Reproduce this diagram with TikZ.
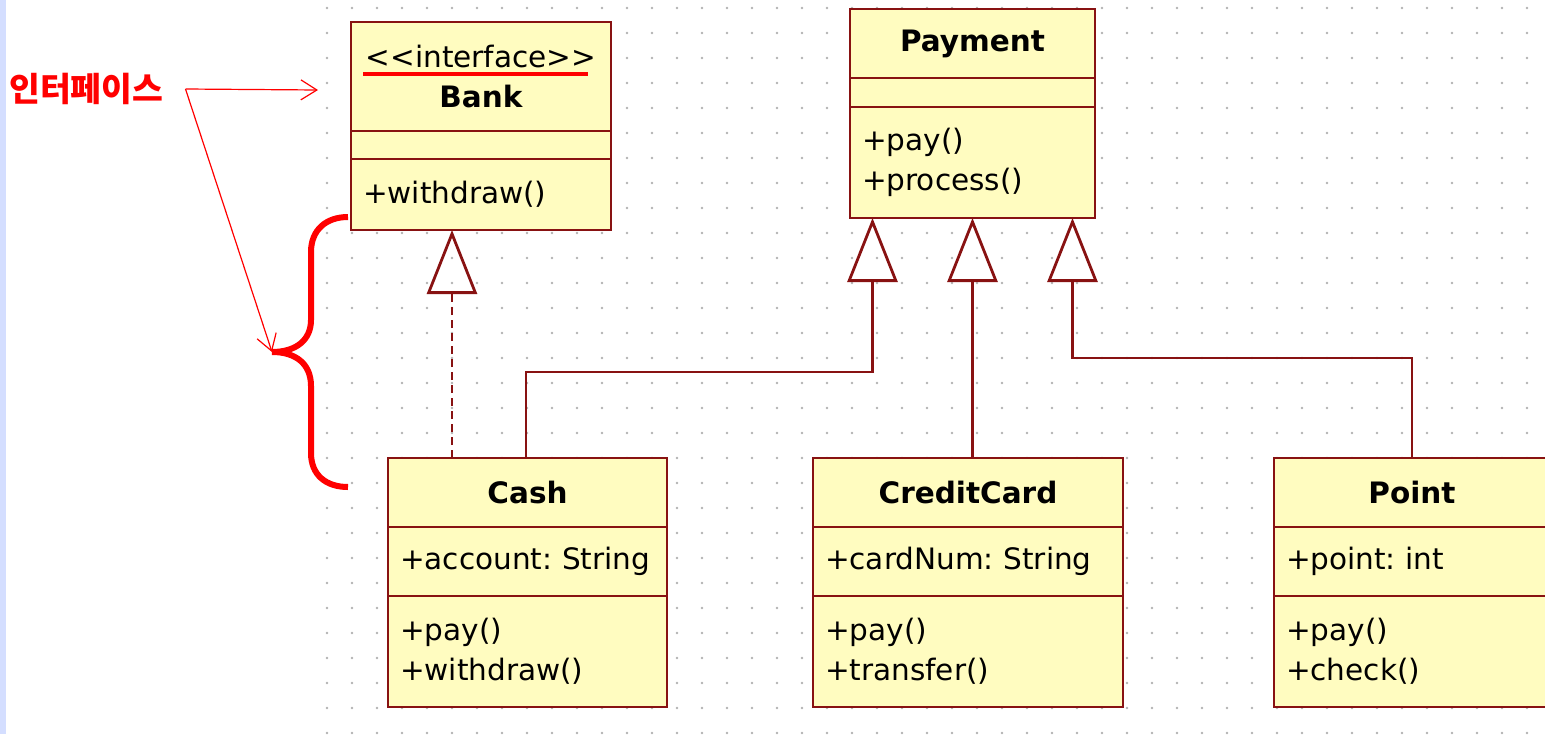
\documentclass[tikz,border=0pt]{standalone}
\usepackage{fontspec}
\usetikzlibrary{positioning,arrows.meta}
\newfontfamily\umlfamily{DejaVu Sans}
\newfontfamily\krfamily{Noto Sans CJK KR}
\definecolor{umlline}{RGB}{136,18,18}
\definecolor{umlfill}{RGB}{255,252,192}
\definecolor{griddot}{RGB}{178,178,178}
\definecolor{sidebar}{RGB}{212,222,255}
\tikzset{
	umlbox/.style={draw=umlline, fill=umlfill, line width=2.8pt, inner sep=0pt, outer sep=0pt,
		font=\umlfamily\fontsize{29.5}{40}\selectfont\frenchspacing},
	umlhead/.style={umlbox, minimum width=#1, align=center},
	umlpart/.style={umlbox, text width=#1, inner xsep=12pt, align=left},
	extends/.style={draw=umlline, line width=2.8pt, -{Triangle[open, length=64pt, width=50pt]}},
	realizes/.style={extends, dash pattern=on 8pt off 5pt},
	note/.style={draw=red, line width=1.2pt, -{Straight Barb[length=16pt, width=20pt]}},
	curly/.style={draw=red, line width=6pt},
	krlabel/.style={text=red, inner sep=0pt, font=\krfamily\bfseries\fontsize{33.5}{38}\selectfont},
}
\begin{document}
\begin{tikzpicture}[x=1pt,y=-1pt]
	\useasboundingbox (0,0) rectangle (1545,734);
	\fill[sidebar] (0,0) rectangle (6,734);
%
	% dotted canvas
	\foreach \gx in {327,352,...,1527}
		\foreach \gy in {8,33,...,733}
			\fill[griddot] (\gx,\gy) circle (1.3pt);
%
	% interface Bank
	\node[umlhead=260pt, minimum height=109pt, anchor=north west] (bankHead) at (351,22) {<<interface>>\\{\bfseries Bank}};
	\node[umlpart=236pt, minimum height=28pt, below=0pt of bankHead] (bankAttr) {};
	\node[umlpart=236pt, minimum height=71pt, below=0pt of bankAttr] (bankOps) {+withdraw()};
%
	% Payment
	\node[umlhead=245pt, minimum height=69pt, anchor=north west] (payHead) at (850,9) {\bfseries Payment};
	\node[umlpart=221pt, minimum height=29pt, below=0pt of payHead] (payAttr) {};
	\node[umlpart=221pt, minimum height=111pt, below=0pt of payAttr] (payOps) {+pay()\\+process()};
%
	% Cash
	\node[umlhead=279pt, minimum height=69pt, anchor=north west] (cashHead) at (388,458) {\bfseries Cash};
	\node[umlpart=255pt, minimum height=69pt, below=0pt of cashHead] (cashAttr) {+account: String};
	\node[umlpart=255pt, minimum height=111pt, below=0pt of cashAttr] (cashOps) {+pay()\\+withdraw()};
%
	% CreditCard
	\node[umlhead=310pt, minimum height=69pt, anchor=north west] (ccHead) at (813,458) {\bfseries CreditCard};
	\node[umlpart=286pt, minimum height=69pt, below=0pt of ccHead] (ccAttr) {+cardNum: String};
	\node[umlpart=286pt, minimum height=111pt, below=0pt of ccAttr] (ccOps) {+pay()\\+transfer()};
%
	% Point
	\node[umlhead=276pt, minimum height=69pt, anchor=north west] (pointHead) at (1274,458) {\bfseries Point};
	\node[umlpart=252pt, minimum height=69pt, below=0pt of pointHead] (pointAttr) {+point: int};
	\node[umlpart=252pt, minimum height=111pt, below=0pt of pointAttr] (pointOps) {+pay()\\+check()};
%
	% generalization
	\draw[extends] ([xshift=-1.5pt]cashHead.north) -- ++(0,-86) -| ([xshift=-100pt]payOps.south);
	\draw[extends] (payOps.south |- ccHead.north) -- (payOps.south);
	\draw[extends] (pointHead.north) -- ++(0,-100) -| ([xshift=100pt]payOps.south);
	% realization
	\coordinate (bankFoot) at ([xshift=-29pt]bankOps.south);
	\draw[realizes] (bankFoot |- cashHead.north) -- (bankFoot);
%
	% annotation
	\node[krlabel, anchor=west] (ifaceLabel) at (9,89) {인터페이스};
	\draw[red, line width=4pt] (363,74) -- (588,74);
	\coordinate (noteFork) at ([xshift=22pt]ifaceLabel.east);
	\coordinate (headMark) at (318,90);
	\coordinate (braceTip) at (272,352);
	\draw[curly] (348,217) .. controls (326,217) and (311,230) .. (311,252) -- (311,320)
		.. controls (311,340) and (296,352) .. (braceTip)
		.. controls (296,352) and (311,364) .. (311,386) -- (311,453)
		.. controls (311,475) and (326,487) .. (348,487);
	\draw[note] (noteFork) -- (headMark);
	\draw[note] (noteFork) -- (braceTip);
\end{tikzpicture}
\end{document}
